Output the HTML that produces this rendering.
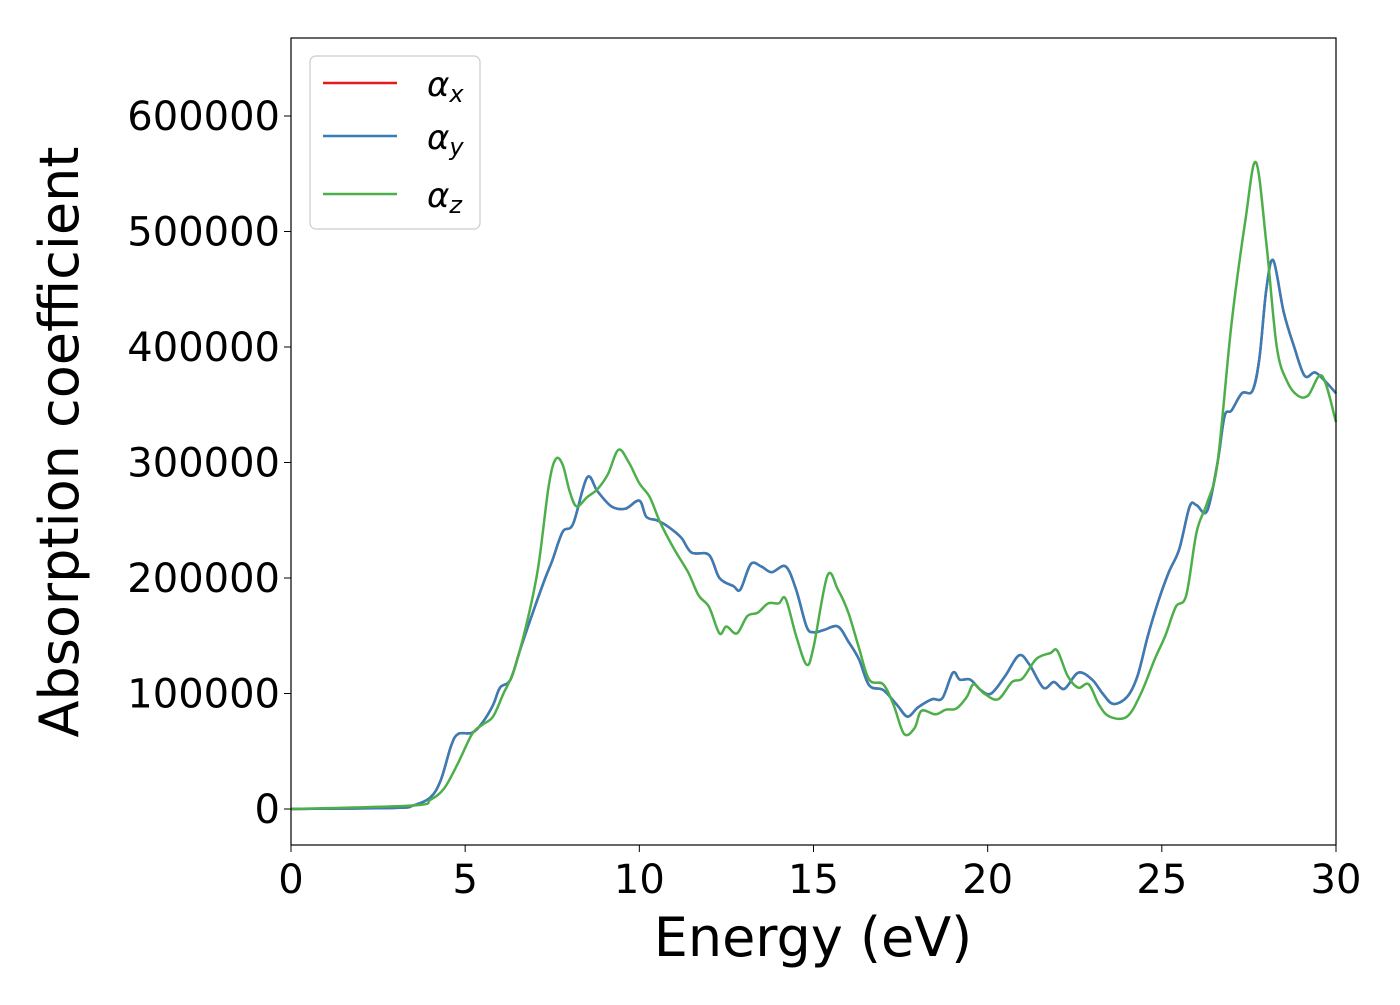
<!DOCTYPE html>
<html><head><meta charset="utf-8"><style>
body{margin:0;background:#fff;}
svg text{font-family:"DejaVu Sans","Liberation Sans",sans-serif;fill:#000;}
</style></head><body>
<svg id="chart" width="1400" height="1000">
<rect x="0" y="0" width="1400" height="1000" fill="#fff"/>
<g id="lines"></g>
<rect x="291" y="38" width="1045" height="807" fill="none" stroke="#000" stroke-width="1.2"/>
<g id="axes"></g>
<text x="813" y="956" font-size="54" text-anchor="middle">Energy (eV)</text>
<text transform="translate(78,442) rotate(-90)" font-size="54" text-anchor="middle">Absorption coefficient</text>
<g>
<rect x="310" y="56" width="170" height="173" rx="6" fill="#fff" fill-opacity="0.8" stroke="#ccc" stroke-width="1.2"/>
<line x1="323" y1="83" x2="397" y2="83" stroke="#e41a1c" stroke-width="2.5"/>
<text x="427" y="96" font-size="34" font-style="italic">α<tspan font-size="24" dy="6">x</tspan></text>
<line x1="323" y1="136" x2="397" y2="136" stroke="#377eb8" stroke-width="2.5"/>
<text x="427" y="149" font-size="34" font-style="italic">α<tspan font-size="24" dy="6">y</tspan></text>
<line x1="323" y1="194" x2="397" y2="194" stroke="#4daf4a" stroke-width="2.5"/>
<text x="427" y="207" font-size="34" font-style="italic">α<tspan font-size="24" dy="6">z</tspan></text>
</g>
</svg>
<script>
const xTicks=[0,5,10,15,20,25,30];
const yTicks=[0,100000,200000,300000,400000,500000,600000];
const energyXY=[0,3,3.5,4,4.3,4.6,4.8,5.2,5.5,5.8,6.0,6.3,6.6,7.0,7.3,7.5,7.8,8.1,8.5,8.8,9.2,9.6,10.0,10.2,10.5,10.8,11.2,11.5,12.0,12.3,12.7,12.9,13.2,13.5,13.8,14.2,14.5,14.8,15.0,15.3,15.7,16.0,16.3,16.6,17.0,17.4,17.7,18.0,18.4,18.7,19.0,19.2,19.5,19.8,20.1,20.5,20.9,21.2,21.6,21.9,22.2,22.6,23.0,23.3,23.6,24.0,24.3,24.6,24.9,25.2,25.5,25.8,26.0,26.3,26.6,26.8,27.0,27.3,27.6,27.8,28.0,28.2,28.5,28.8,29.1,29.4,29.7,30];
const alphaXY=[0,1000,3000,10000,25000,55000,65000,66000,75000,90000,105000,112000,140000,175000,200000,215000,240000,247000,287000,275000,262000,260000,267000,253000,250000,245000,235000,222000,220000,200000,193000,190000,212000,210000,205000,210000,190000,158000,153000,155000,158000,145000,130000,107000,103000,90000,80000,88000,95000,96000,118000,112000,112000,103000,100000,115000,133000,125000,105000,110000,104000,118000,112000,100000,91000,97000,115000,150000,180000,205000,225000,262000,263000,258000,300000,340000,345000,360000,362000,390000,450000,475000,430000,400000,375000,378000,370000,360000];
const energyZ=[0,3.5,4,4.4,4.8,5.2,5.5,5.8,6.1,6.4,6.8,7.1,7.4,7.6,7.8,8.0,8.2,8.5,8.8,9.1,9.4,9.7,10.0,10.3,10.6,11.0,11.4,11.7,12.0,12.3,12.5,12.8,13.1,13.4,13.7,14.0,14.2,14.5,14.8,15.0,15.4,15.7,16.0,16.3,16.6,17.0,17.3,17.6,17.9,18.1,18.5,18.8,19.1,19.4,19.6,19.9,20.3,20.7,21.0,21.4,21.8,22.0,22.3,22.6,22.9,23.2,23.5,24.0,24.4,24.8,25.1,25.4,25.7,26.0,26.3,26.6,27.0,27.4,27.7,28.0,28.3,28.6,28.9,29.2,29.6,30];
const alphaZ=[0,3000,8000,18000,40000,65000,73000,80000,100000,120000,165000,210000,280000,303000,298000,275000,262000,270000,277000,290000,311000,300000,282000,270000,248000,225000,205000,185000,175000,152000,158000,152000,167000,170000,178000,178000,182000,150000,125000,140000,202000,190000,170000,140000,112000,108000,90000,65000,70000,85000,82000,86000,87000,97000,108000,100000,95000,110000,113000,130000,135000,137000,115000,105000,108000,90000,80000,80000,100000,130000,150000,175000,185000,240000,265000,300000,420000,510000,560000,490000,400000,370000,358000,358000,375000,335000];
const NS="http://www.w3.org/2000/svg";
function xs(v){return 291+v*(1045/30);}
function ys(v){return 809-v*(115.5/100000);}
function path(X,Y){
  const p=X.map((x,i)=>[xs(x),ys(Y[i])]);
  let d="M"+p[0][0]+","+p[0][1];
  for(let i=0;i<p.length-1;i++){
    const a=p[Math.max(i-1,0)],b=p[i],c=p[i+1],e=p[Math.min(i+2,p.length-1)];
    const c1=[b[0]+(c[0]-a[0])/6,b[1]+(c[1]-a[1])/6],c2=[c[0]-(e[0]-b[0])/6,c[1]-(e[1]-b[1])/6];
    d+=" C"+c1+" "+c2+" "+c;
  }
  return d;
}
const g=document.getElementById("lines");
const series=[["series-alpha-x",energyXY,alphaXY,"#e41a1c"],["series-alpha-y",energyXY,alphaXY,"#377eb8"],["series-alpha-z",energyZ,alphaZ,"#4daf4a"]];
for(const s of series){
  const el=document.createElementNS(NS,"path");
  el.setAttribute("d",path(s[1],s[2]));
  el.setAttribute("fill","none");el.setAttribute("stroke",s[3]);el.setAttribute("stroke-width","2.5");
  
  
  g.appendChild(el);
}
const ax=document.getElementById("axes");
for(const t of xTicks){
  const l=document.createElementNS(NS,"line");
  l.setAttribute("x1",xs(t));l.setAttribute("x2",xs(t));l.setAttribute("y1",845);l.setAttribute("y2",852);l.setAttribute("stroke","#000");
  
  
  ax.appendChild(l);
  const tx=document.createElementNS(NS,"text");
  tx.setAttribute("x",xs(t));tx.setAttribute("y",893);tx.setAttribute("font-size","40");tx.setAttribute("text-anchor","middle");
  tx.textContent=t;
  
  
  ax.appendChild(tx);
}
for(const t of yTicks){
  const l=document.createElementNS(NS,"line");
  l.setAttribute("x1",284);l.setAttribute("x2",291);l.setAttribute("y1",ys(t));l.setAttribute("y2",ys(t));l.setAttribute("stroke","#000");
  
  
  ax.appendChild(l);
  const tx=document.createElementNS(NS,"text");
  tx.setAttribute("x",280);tx.setAttribute("y",ys(t)+14);tx.setAttribute("font-size","40");tx.setAttribute("text-anchor","end");
  tx.textContent=t;
  
  
  ax.appendChild(tx);
}
</script>
</body></html>
